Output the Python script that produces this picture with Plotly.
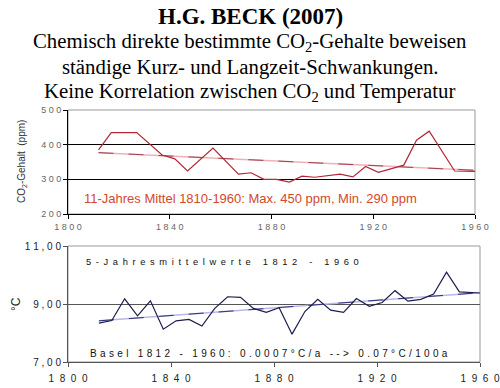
import plotly.graph_objects as go

co2_years = [1812, 1817, 1827, 1837, 1842, 1847, 1857, 1867, 1872, 1877, 1882, 1887, 1892, 1897, 1907, 1912, 1917, 1922, 1932, 1937, 1942, 1952, 1960]
co2_vals = [385, 435, 435, 370, 359, 324, 390, 315, 319, 300, 300, 292, 309, 306, 315, 307, 337, 320, 341, 413, 439, 324, 323]
co2_trend_years = [1812, 1960]
co2_trend_vals = [377, 326]

t_years = [1812, 1817, 1822, 1827, 1832, 1837, 1842, 1847, 1852, 1857, 1862, 1867, 1872, 1877, 1882, 1887, 1892, 1897, 1902, 1907, 1912, 1917, 1922, 1927, 1932, 1937, 1942, 1947, 1952, 1957, 1960]
t_vals = [8.34, 8.43, 9.18, 8.59, 9.11, 8.13, 8.42, 8.47, 8.24, 8.85, 9.25, 9.23, 8.85, 8.71, 8.87, 7.96, 8.74, 9.16, 8.79, 8.71, 9.19, 8.92, 9.05, 9.46, 9.10, 9.16, 9.34, 10.10, 9.42, 9.39, 9.38]
t_trend_years = [1812, 1960]
t_trend_vals = [8.42, 9.39]

x_ticks = [1800, 1840, 1880, 1920, 1960]
co2_ticks = [200, 300, 400, 500]
t_ticks = [7, 9, 11]
t_tick_labels = ["7,00", "9,00", "11,00"]

def spaced(s, sep=" "):
    return sep.join("\u00a0" if c == " " else c for c in s)

W, H = 500, 388
def py(p):
    return 1 - p / H

fig = go.Figure()

# CO2 panel
fig.add_trace(go.Scatter(x=co2_trend_years, y=co2_trend_vals, mode="lines",
                         line=dict(color="#f0b0b8", width=1.5), xaxis="x", yaxis="y", showlegend=False))
fig.add_trace(go.Scatter(x=co2_trend_years, y=co2_trend_vals, mode="lines",
                         line=dict(color="#a04050", width=1, dash="longdash"), xaxis="x", yaxis="y", showlegend=False))
fig.add_trace(go.Scatter(x=co2_years, y=co2_vals, mode="lines",
                         line=dict(color="#b02838", width=1.2), xaxis="x", yaxis="y", showlegend=False))

# Temperature panel
fig.add_trace(go.Scatter(x=t_trend_years, y=t_trend_vals, mode="lines",
                         line=dict(color="#b8b8e8", width=1.5), xaxis="x2", yaxis="y2", showlegend=False))
fig.add_trace(go.Scatter(x=t_trend_years, y=t_trend_vals, mode="lines",
                         line=dict(color="#303070", width=1, dash="longdash"), xaxis="x2", yaxis="y2", showlegend=False))
fig.add_trace(go.Scatter(x=t_years, y=t_vals, mode="lines",
                         line=dict(color="#1c1c50", width=1.2), xaxis="x2", yaxis="y2", showlegend=False))

tickfont_gray = dict(family="Arial", size=9, color="#666666")
tickfont_blk = dict(family="Arial", size=10, color="#222222")
sep2 = " \u00a0"

fig.update_layout(
    width=W, height=H,
    margin=dict(l=0, r=0, t=0, b=0, autoexpand=False),
    paper_bgcolor="white", plot_bgcolor="white",
    xaxis=dict(domain=[68 / W, 475 / W], range=[1800, 1960], anchor="y", automargin=False,
               tickvals=x_ticks, ticktext=[spaced(str(v)) for v in x_ticks],
               tickfont=tickfont_gray, showgrid=False, zeroline=False,
               showline=True, linecolor="black", linewidth=1,
               ticks="outside", ticklen=4, tickcolor="black"),
    yaxis=dict(domain=[py(214), py(110)], range=[200, 500], anchor="x", automargin=False,
               tickvals=co2_ticks, ticktext=[spaced(str(v)) for v in co2_ticks],
               tickfont=tickfont_gray, showgrid=True, gridcolor="black", gridwidth=1,
               zeroline=False, showline=True, linecolor="black", linewidth=1,
               ticks="outside", ticklen=4, tickcolor="black"),
    xaxis2=dict(domain=[68 / W, 480 / W], range=[1800, 1960], anchor="y2", automargin=False,
                tickvals=x_ticks, ticktext=[spaced(str(v), sep2) for v in x_ticks],
                tickfont=tickfont_blk, showgrid=False, zeroline=False,
                showline=True, linecolor="#555555", linewidth=1,
                ticks="outside", ticklen=4, tickcolor="#555555", ticklabelstandoff=3),
    yaxis2=dict(domain=[py(362), py(246)], range=[7, 11], anchor="x2", automargin=False,
                tickvals=t_ticks, ticktext=[spaced(s) for s in t_tick_labels],
                tickfont=tickfont_blk, showgrid=True, gridcolor="#555555", gridwidth=1,
                zeroline=False, showline=True, linecolor="#555555", linewidth=1,
                ticks="outside", ticklen=4, tickcolor="#555555"),
    shapes=[
        dict(type="rect", xref="x domain", yref="y domain", x0=0, x1=1, y0=0, y1=1,
             line=dict(color="#999999", width=1), layer="below"),
        dict(type="rect", xref="x2 domain", yref="y2 domain", x0=0, x1=1, y0=0, y1=1,
             line=dict(color="#999999", width=1), layer="below"),
    ],
)

serif = "Liberation Serif, Times New Roman, serif"
titles = [
    ("<b>H.G. BECK (2007)</b>", 17, 23),
    ("Chemisch direkte bestimmte CO<sub>2</sub>-Gehalte beweisen", 42, 20.8),
    ("ständige Kurz- und Langzeit-Schwankungen.", 67, 20.8),
    ("Keine Korrelation zwischen CO<sub>2</sub> und Temperatur", 92, 20.8),
]
for txt, yy, sz in titles:
    fig.add_annotation(text=txt, xref="paper", yref="paper", x=0.5, y=py(yy),
                       xanchor="center", yanchor="middle", showarrow=False,
                       font=dict(family=serif, size=sz, color="black"))

# axis titles
fig.add_annotation(text="CO<sub>2</sub>-Gehalt  (ppm)", xref="paper", yref="paper",
                   x=22 / W, y=py(162), xanchor="center", yanchor="middle", textangle=-90,
                   showarrow=False, font=dict(family="Arial", size=10, color="#333333"))
fig.add_annotation(text="°C", xref="paper", yref="paper",
                   x=16 / W, y=py(304), xanchor="center", yanchor="middle", textangle=-90,
                   showarrow=False, font=dict(family="Arial", size=12, color="#222222"))

fig.add_annotation(text="11-Jahres Mittel 1810-1960: Max. 450 ppm, Min. 290 ppm",
                   xref="paper", yref="paper", x=82 / W, y=py(198), xanchor="left", yanchor="middle",
                   showarrow=False, font=dict(family="Arial", size=13, color="#d4482c"))
fig.add_annotation(text=spaced("5-Jahresmittelwerte 1812 - 1960", "\u2002"),
                   xref="paper", yref="paper", x=84 / W, y=py(262), xanchor="left", yanchor="middle",
                   showarrow=False, font=dict(family="Arial", size=9.3, color="#111111"))
fig.add_annotation(text=spaced("Basel 1812 - 1960: 0.0007°C/a --> 0.07°C/100a", "\u2004"),
                   xref="paper", yref="paper", x=88 / W, y=py(353), xanchor="left", yanchor="middle",
                   showarrow=False, font=dict(family="Arial", size=10, color="#111111"))

fig.write_html("out.html", config={"displayModeBar": False},
               post_script="document.body.style.margin='0';")
